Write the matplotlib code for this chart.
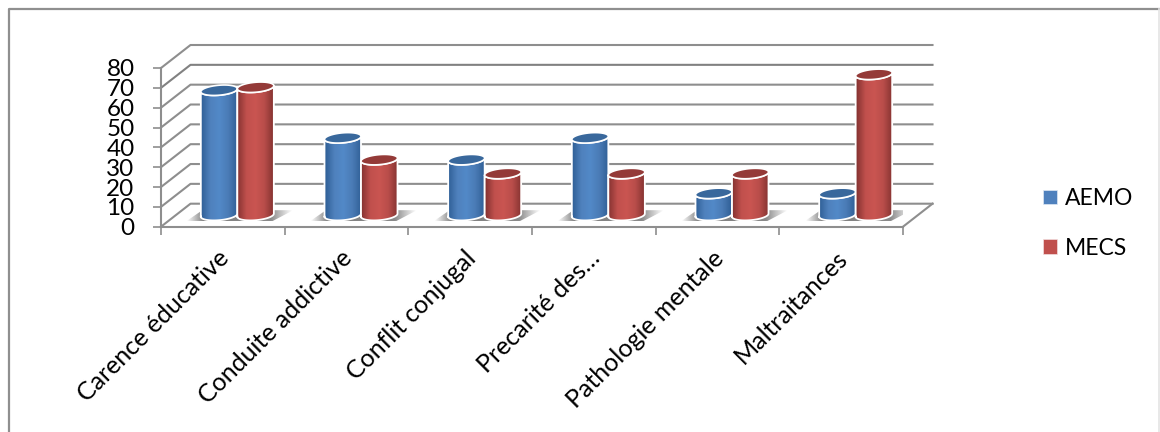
import numpy as np
import matplotlib
matplotlib.use('Agg')
import matplotlib.pyplot as plt
from matplotlib.colors import LinearSegmentedColormap
from matplotlib.lines import Line2D
from matplotlib.patches import Patch, PathPatch, Polygon
from matplotlib.path import Path
from matplotlib.transforms import ScaledTranslation

categories = ['Carence éducative', 'Conduite addictive', 'Conflit conjugal',
              'Precarité des…', 'Pathologie mentale', 'Maltraitances']
aemo = [63, 39, 28, 39, 11, 11]
mecs = [64.5, 28, 21, 21, 21, 71]
y_ticks = [0, 10, 20, 30, 40, 50, 60, 70, 80]

W, H = 1160, 432
# front plane of the box, in pixels of the figure
X0, X1, Y0, Y80 = 161, 903, 226.7, 68
PX = (X1 - X0) / 6.0    # pixels per category
PY = (Y0 - Y80) / 80.0  # pixels per value unit
DEPTH_X = 29.5 / PX
DEPTH_Y = 23.0 / PY
BAR_W = 36.5 / PX
GRID = '#8e8e8e'

plt.rcParams['font.family'] = ['Lato', 'DejaVu Sans']

fig = plt.figure(figsize=(W / 100, H / 100), dpi=100)
ax = fig.add_axes([X0 / W, 1 - Y0 / H, (X1 - X0) / W, (Y0 - Y80) / H])
ax.patch.set_visible(False)


def gradient(path, colors, zorder):
    cmap = LinearSegmentedColormap.from_list('g', colors)
    xs, ys = path.vertices[:, 0], path.vertices[:, 1]
    im = ax.imshow(np.linspace(0, 1, 64).reshape(1, -1), cmap=cmap, aspect='auto',
                   extent=(xs.min(), xs.max(), ys.min(), ys.max()),
                   zorder=zorder, interpolation='bilinear')
    clip = PathPatch(path, transform=ax.transData, facecolor='none', edgecolor='none')
    ax.add_patch(clip)
    im.set_clip_path(clip)


def cylinder(cx, value, colors, top_color, zorder):
    base = DEPTH_Y / 2.0
    a = BAR_W / 2.0
    b = 5.0 / PY
    tilt = 1.5 / PY
    t = np.linspace(0, 2 * np.pi, 80)
    top = base + value
    # body: lower half of the base ellipse, then up and along the top
    lo = np.linspace(np.pi, 2 * np.pi, 40)
    bx = cx + a * np.cos(lo)
    by = base + b * np.sin(lo) + tilt * np.cos(lo)
    hi = np.linspace(0, -np.pi, 40)
    tx = cx + a * np.cos(hi)
    ty = top + b * np.sin(hi) + tilt * np.cos(hi)
    body = Path(np.column_stack([np.r_[bx, tx], np.r_[by, ty]]))
    gradient(body, colors, zorder)
    ax.plot(np.r_[bx, tx, bx[0]], np.r_[by, ty, by[0]], color='white', lw=1.3,
            solid_joinstyle='round', zorder=zorder + 0.1, clip_on=False)
    ax.add_patch(Polygon(np.column_stack([cx + a * np.cos(t),
                                          top + b * np.sin(t) + tilt * np.cos(t)]),
                         facecolor=top_color, edgecolor='white', lw=1.2,
                         zorder=zorder + 0.2, clip_on=False))


# back walls, floor and gridlines
for v in y_ticks:
    c = '#818181' if v == 70 else GRID
    ax.plot([0, DEPTH_X, 6 + DEPTH_X], [v, v + DEPTH_Y, v + DEPTH_Y], color=c, lw=1.5,
            zorder=1, clip_on=False)
ax.plot([6, 6 + DEPTH_X], [0, DEPTH_Y], color=GRID, lw=1.5, zorder=1, clip_on=False)

for i, (a_val, m_val) in enumerate(zip(aemo, mecs)):
    center = i + 0.5 + 14.5 / PX
    base = DEPTH_Y / 2.0
    shadow = np.array([[-51, -6], [-35, 5], [56, 5], [35, -6], [-51, -6]], dtype=float)
    shadow[:, 0] = center + shadow[:, 0] / PX
    shadow[:, 1] = base + shadow[:, 1] / PY
    gradient(Path(shadow), [(0, '#ffffff'), (0.16, '#7f7f7f'), (0.8, '#8a8a8a'), (1, '#ffffff')], 2)
    cylinder(center - BAR_W / 2.0, a_val, ['#2f5f96', '#4f81bd', '#5289c8', '#4a7bb5', '#2f5f96'],
             '#39689c', 3 + i)
    cylinder(center + BAR_W / 2.0, m_val, ['#843230', '#c0504d', '#ca5551', '#b84d4a', '#843230'],
             '#943a38', 3.5 + i)

ax.set_xlim(0, 6)
ax.set_ylim(0, 80)
ax.set_xticks(range(7))
ax.set_xticklabels([])
ax.set_xticks(np.arange(6) + 0.5, labels=categories, minor=True, rotation=45, ha='right',
              rotation_mode='anchor', fontsize=18, color='black')
ax.set_yticks(y_ticks)
ax.set_yticklabels([str(v) for v in y_ticks], fontsize=17.5, color='black')
ax.tick_params(axis='x', which='major', length=6, width=1.2, color=GRID)
ax.tick_params(axis='x', which='minor', length=0, pad=12)
ax.tick_params(axis='y', length=6, width=1.2, color=GRID, pad=13)
# the rotated labels sit a little further left and down than the tick centre
shift = ScaledTranslation(-6 / 100, -3 / 100, fig.dpi_scale_trans)
for lab in ax.get_xticklabels(minor=True):
    lab.set_transform(lab.get_transform() + shift)
for side in ['top', 'right']:
    ax.spines[side].set_visible(False)
for side in ['left', 'bottom']:
    ax.spines[side].set_color(GRID)
    ax.spines[side].set_linewidth(1.5)

handles = [Patch(facecolor='#4f81bd', edgecolor='#dfe8f3', lw=0.5, label='AEMO'),
           Patch(facecolor='#c0504d', edgecolor='#f3dfdf', lw=0.5, label='MECS')]
fig.legend(handles=handles, loc='center left', bbox_to_anchor=(1022.5 / W, 1 - 223.5 / H),
           frameon=False, fontsize=16.5, handlelength=0.6, handleheight=0.6,
           labelspacing=1.25, handletextpad=0.35)

# outer frame of the picture
fig.add_artist(Line2D([8.5 / W, 8.5 / W, 1 - 1 / W], [0, 1 - 8.5 / H, 1 - 8.5 / H],
                      color='#8f8f8f', lw=1.6))
fig.add_artist(Line2D([1159 / W, 1159 / W], [0, 1 - 8.5 / H], color='#e4e4e4', lw=1.2))

fig.savefig('out.png', dpi=100, facecolor='white')
